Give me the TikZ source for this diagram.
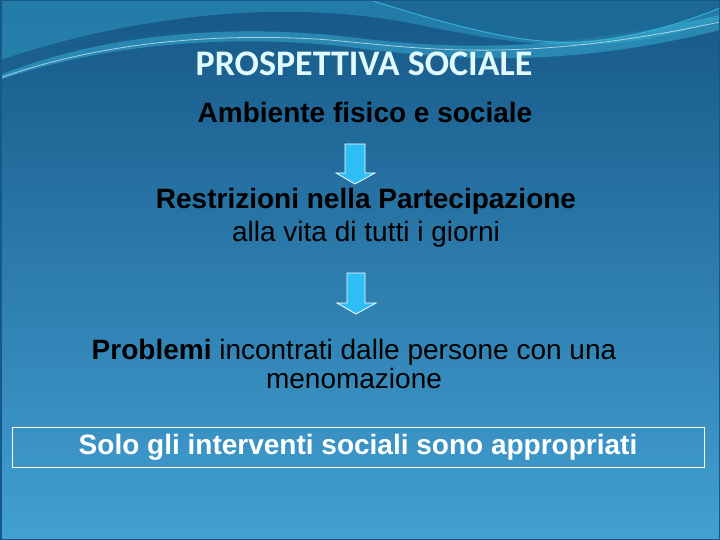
\documentclass[tikz,border=0pt]{standalone}
\usepackage{fontspec}
\setmainfont{Liberation Sans}
\newfontfamily\titlefont{Carlito}
\begin{document}
\begin{tikzpicture}[x=1pt,y=-1pt,
  bodytext/.style={text=black,align=center,inner sep=0pt},
  blockarrow/.style={fill=arrowcyan,draw=white,line width=0.8pt},
  ]
\definecolor{bgtop}{RGB}{22,88,135}
\definecolor{bgbot}{RGB}{66,160,210}
\definecolor{wavecyan}{RGB}{60,190,225}
\definecolor{arrowcyan}{RGB}{45,190,245}
\definecolor{titlecyan}{RGB}{225,250,255}
\useasboundingbox (0,0) rectangle (720,540);
\shade[top color=bgtop,bottom color=bgbot] (0,0) rectangle (720,540);
% top waves
\fill[wavecyan,opacity=0.35] (0,0) -- (720,0) -- (720,20) .. controls (600,60) and (520,45) .. (420,25) .. controls (300,0) and (150,10) .. (0,60) -- cycle;
\fill[wavecyan,opacity=0.45] (0,75) .. controls (100,35) and (220,25) .. (330,35) .. controls (420,45) and (520,60) .. (720,15) -- (720,30) .. controls (540,75) and (420,55) .. (330,45) .. controls (220,35) and (100,45) .. (0,80) -- cycle;
\draw[white,opacity=0.6,line width=0.8pt] (0,78) .. controls (100,42) and (220,32) .. (330,40) .. controls (420,48) and (520,65) .. (720,22);
\fill[bgtop,opacity=0.5] (370,0) .. controls (450,25) and (520,45) .. (580,42) .. controls (640,38) and (690,20) .. (720,8) -- (720,0) -- cycle;
\draw[wavecyan,opacity=0.8,line width=1pt] (370,0) .. controls (450,25) and (520,45) .. (580,42) .. controls (640,38) and (690,20) .. (720,8);
% border
\draw[bgtop,line width=1.5pt] (0.75,0.75) rectangle (719.25,539.25);
% title
\node[text=titlecyan,inner sep=0pt,font=\titlefont\bfseries\fontsize{36}{40}\selectfont] (title) at (364,64) {PROSPETTIVA SOCIALE};
\node[bodytext,font=\fontsize{28}{33}\selectfont] (amb) at (365,112) {\bfseries Ambiente fisico e sociale};
\node[bodytext,font=\fontsize{28}{33}\selectfont] (restr) at (366,218) {\bfseries Restrizioni nella Partecipazione\\alla vita di tutti i giorni};
\node[bodytext,font=\fontsize{28}{29}\selectfont] (prob) at (354,364) {\textbf{Problemi} incontrati dalle persone con una\\menomazione};
\node[draw=white,line width=1pt,minimum width=692pt,minimum height=40pt,inner sep=0pt,text=white,font=\bfseries\fontsize{28}{33}\selectfont] (solo) at (358,447) {Solo gli interventi sociali sono appropriati};
% arrows
\fill[blockarrow] (345,144) -- (365,144) -- (365,173) -- (375,173) -- (355,184) -- (336,173) -- (345,173) -- cycle;
\fill[blockarrow] (347,273) -- (365,273) -- (365,303) -- (376,303) -- (356,314) -- (337,303) -- (347,303) -- cycle;
\end{tikzpicture}
\end{document}
